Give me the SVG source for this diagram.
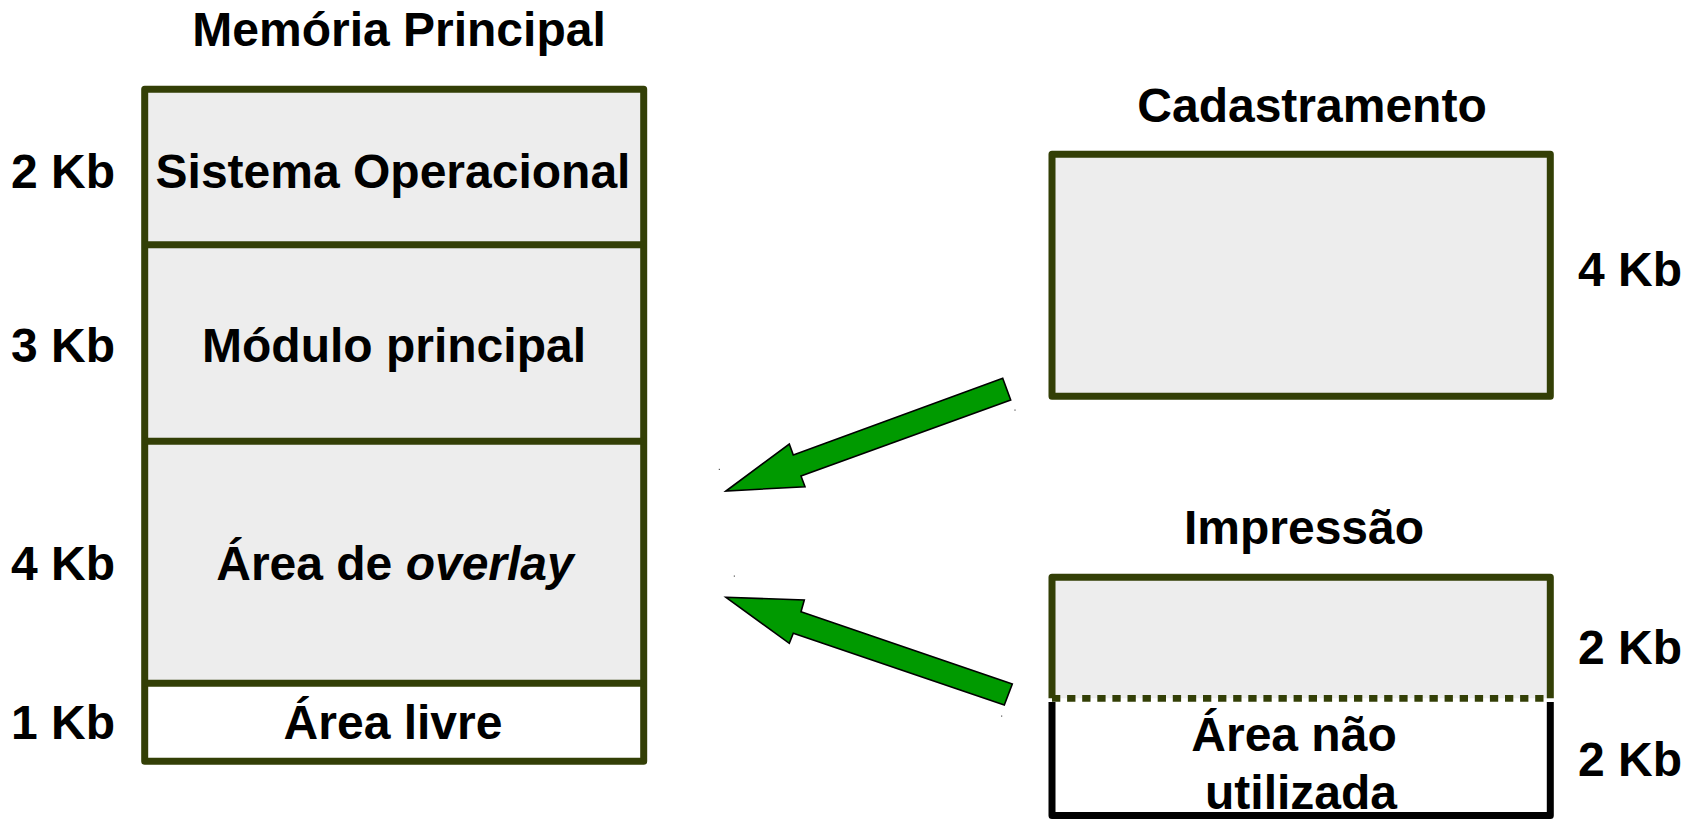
<svg xmlns="http://www.w3.org/2000/svg" width="1696" height="819" viewBox="0 0 1696 819">
  <style>
    text { font-family: "Liberation Sans", Arial, sans-serif; font-weight: bold; font-size: 48px; fill: #000; }
    .mid { text-anchor: middle; }
    .box { fill: #ededed; stroke: #333f06; stroke-width: 7; stroke-linejoin: round; }
    .sep { stroke: #333f06; stroke-width: 7; }
    .free { fill: #ffffff; }
    .arrow { fill: #009a00; stroke: #000; stroke-width: 1.6; stroke-linejoin: miter; }
    .speck { fill: #333; }
  </style>

  <!-- Main memory column -->
  <g id="memoria-principal">
    <text class="mid" x="399" y="46">Memória Principal</text>
    <rect class="free" x="144.7" y="683.3" width="499" height="78"/>
    <rect x="144.7" y="89.2" width="499" height="594.1" fill="#ededed"/>
    <path d="M144.7,89.2 H643.7 V761.3 H144.7 Z" fill="none" stroke="#333f06" stroke-width="7" stroke-linejoin="round"/>
    <line class="sep" x1="144.7" y1="244.7" x2="643.7" y2="244.7"/>
    <line class="sep" x1="144.7" y1="441.3" x2="643.7" y2="441.3"/>
    <line class="sep" x1="144.7" y1="683.3" x2="643.7" y2="683.3"/>
  </g>

  <g id="so">
    <text x="11" y="188">2 Kb</text>
    <text class="mid" x="393" y="188">Sistema Operacional</text>
  </g>
  <g id="modulo-principal">
    <text x="11" y="362">3 Kb</text>
    <text class="mid" x="394" y="362">Módulo principal</text>
  </g>
  <g id="area-overlay">
    <text x="11" y="580">4 Kb</text>
    <text class="mid" x="395" y="580">Área de <tspan font-style="italic">overlay</tspan></text>
  </g>
  <g id="area-livre">
    <text x="11" y="738.5">1 Kb</text>
    <text class="mid" x="393" y="738.5">Área livre</text>
  </g>

  <!-- Overlay module: Cadastramento -->
  <g id="cadastramento">
    <text class="mid" x="1312" y="122">Cadastramento</text>
    <rect class="box" x="1052" y="154.3" width="498.3" height="241.9"/>
    <text x="1578" y="286">4 Kb</text>
  </g>

  <!-- Overlay module: Impressão -->
  <g id="impressao">
    <text class="mid" x="1304" y="544">Impressão</text>
    <rect x="1052" y="577.3" width="498.3" height="121" fill="#ededed"/>
    <path d="M1052,698.3 V577.3 H1550.3 V698.3" fill="none" stroke="#333f06" stroke-width="7" stroke-linejoin="round"/>
    <path d="M1052,702 V815.5 H1550.3 V702" fill="#ffffff" stroke="#000" stroke-width="7" stroke-linejoin="round"/>
    <line x1="1052" y1="698.3" x2="1550.3" y2="698.3" stroke="#333f06" stroke-width="6.7" stroke-dasharray="8.3 6.8"/>
    <text x="1578" y="664">2 Kb</text>
    <text class="mid" x="1294" y="751">Área não</text>
    <text class="mid" x="1301" y="809">utilizada</text>
    <text x="1578" y="776">2 Kb</text>
  </g>

  <!-- Connectors: block arrows into the overlay area -->
  <g id="connectors">
    <polygon class="arrow" points="726,491 789.3,444 793.3,455 1002.7,378.3 1010.7,400 801,476 805,486.7"/>
    <polygon class="arrow" points="726,597.3 804.3,600 801,611.7 1012.3,684 1004.3,705 793.3,633.3 789.3,643.3"/>
    <rect class="speck" x="1014.5" y="409.5" width="1" height="1.2"/>
    <rect class="speck" x="718.8" y="468.8" width="1" height="1.2"/>
    <rect class="speck" x="733.8" y="575.5" width="1" height="1.2"/>
    <rect class="speck" x="1001.2" y="715.5" width="1" height="1.2"/>
  </g>
</svg>
